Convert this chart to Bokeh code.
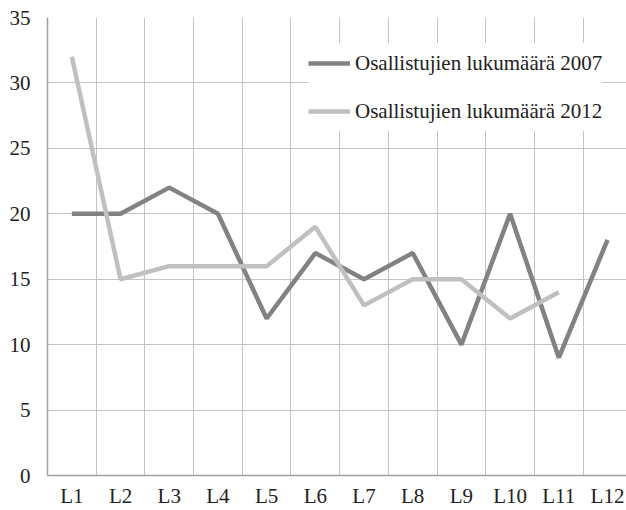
import numpy as np
from bokeh.plotting import figure
from bokeh.models import FixedTicker, Range1d, Legend, LegendItem
from bokeh.embed import file_html
from bokeh.resources import INLINE

categories = ["L1", "L2", "L3", "L4", "L5", "L6", "L7", "L8", "L9", "L10", "L11", "L12"]
series_2007 = [20, 20, 22, 20, 12, 17, 15, 17, 10, 20, 9, 18]
series_2012 = [32, 15, 16, 16, 16, 19, 13, 15, 15, 12, 14, None]
label_2007 = "Osallistujien lukumäärä 2007"
label_2012 = "Osallistujien lukumäärä 2012"
y_ticks = [0, 5, 10, 15, 20, 25, 30, 35]

FONT = "serif"
x = list(range(1, len(categories) + 1))
y2012 = [np.nan if v is None else v for v in series_2012]

p = figure(width=626, height=510, output_backend="svg", toolbar_location=None,
           x_range=Range1d(0.5, 12.39), y_range=Range1d(0, 35),
           min_border_left=47, min_border_right=0, min_border_top=17, min_border_bottom=33)
p.outline_line_color = None
p.background_fill_color = "white"
p.border_fill_color = "white"

r1 = p.line(x, series_2007, line_color="#828282", line_width=4.5)
r2 = p.line(x, y2012, line_color="#c0c0c0", line_width=4.5)

# axes
p.xaxis.ticker = FixedTicker(ticks=x)
p.xaxis.major_label_overrides = {i: c for i, c in zip(x, categories)}
p.yaxis.ticker = FixedTicker(ticks=y_ticks)
for ax in (p.xaxis, p.yaxis):
    ax.major_tick_line_color = None
    ax.minor_tick_line_color = None
    ax.major_tick_out = 0
    ax.major_tick_in = 0
    ax.minor_tick_out = 0
    ax.minor_tick_in = 0
    ax.axis_line_color = "#a0a0a0"
    ax.axis_line_width = 1.5
    ax.major_label_text_font = FONT
    ax.major_label_text_font_size = "21px"
    ax.major_label_text_color = "#222222"
p.yaxis.major_label_standoff = 17
p.xaxis.major_label_standoff = 8

# grids
p.xgrid.ticker = FixedTicker(ticks=[i + 0.5 for i in x])
p.ygrid.ticker = FixedTicker(ticks=y_ticks)
p.xgrid.grid_line_color = "#c4c4c4"
p.ygrid.grid_line_color = "#c4c4c4"
p.xgrid.grid_line_width = 1
p.ygrid.grid_line_width = 1

legend = Legend(items=[LegendItem(label=label_2007, renderers=[r1]),
                       LegendItem(label=label_2012, renderers=[r2])],
                location=(261, 344))
legend.background_fill_color = "white"
legend.background_fill_alpha = 1.0
legend.border_line_color = None
legend.label_text_font = FONT
legend.label_text_font_size = "21px"
legend.label_text_color = "#222222"
legend.glyph_width = 42
legend.glyph_height = 40
legend.label_height = 40
legend.label_standoff = 5
legend.spacing = 8
legend.padding = 5
legend.margin = 0
p.add_layout(legend)

open("out.html", "w").write(file_html(p, INLINE))
